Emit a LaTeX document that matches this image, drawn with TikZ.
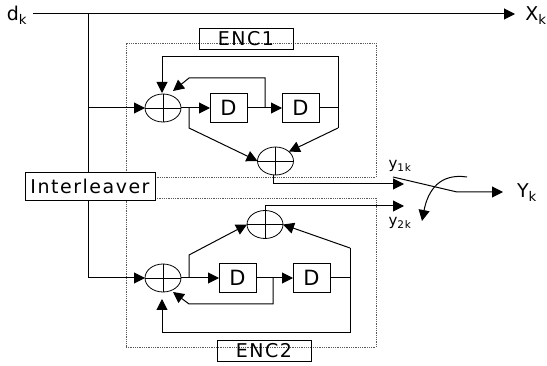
\documentclass[tikz,border=0pt]{standalone}
\usepackage{fontspec}
\setmainfont[LetterSpace=8]{DejaVu Sans}
\usetikzlibrary{shapes.geometric,arrows.meta,positioning,calc}
\begin{document}
\begin{tikzpicture}[
    x=1pt, y=-1pt,
    font=\fontsize{19}{21}\selectfont,
    node distance=0mm,
    sig/.style={line width=1pt},
    arw/.style={sig, -{Triangle[length=11pt, width=11pt]}},
    xorgate/.style={draw, ellipse, line width=0.8pt, minimum width=36pt, minimum height=28pt, inner sep=0pt, outer sep=0pt},
    delaybox/.style={draw, line width=0.8pt, minimum width=37pt, minimum height=29pt, inner sep=0pt, outer sep=0pt, font=\fontsize{21}{23}\selectfont},
    encframe/.style={draw=black!65, densely dotted, line width=0.8pt, minimum width=250pt, inner sep=0pt, outer sep=0pt},
    enclabel/.style={draw, line width=0.8pt, minimum width=94pt, minimum height=21pt, inner sep=0pt, outer sep=0pt},
    lbl/.style={inner sep=0pt, font=\fontsize{15}{17}\selectfont}
]
\useasboundingbox (0,0) rectangle (547,366);

% encoder frames
\node[encframe, minimum height=134pt] (frameA) at (251,110) {};
\node[encframe, minimum height=149pt] (frameB) at (251,272.5) {};
\node[enclabel] (encA) at (246,38.5) {ENC1};
\node[enclabel] (encB) at (264,351) {ENC2};

% terminals
\node[lbl, font=\fontsize{19}{21}\selectfont] (dk) at (17,15) {d\textsubscript{k}};
\node[lbl, font=\fontsize{19}{21}\selectfont] (xk) at (536,16) {X\textsubscript{k}};
\node[lbl, font=\fontsize{19}{21}\selectfont] (yk) at (527,193) {Y\textsubscript{k}};
\node[lbl] (ya) at (400,166) {y\textsubscript{1k}};
\node[lbl] (yb) at (400,223) {y\textsubscript{2k}};
\node[draw, fill=white, line width=0.8pt, minimum width=130pt, minimum height=28pt, inner sep=0pt, outer sep=0pt] (inter) at (90,186) {Interleaver};

% upper encoder
\node[xorgate] (xa) at (163,108) {};
\node[delaybox, right=29pt of xa] (da) {D};
\node[delaybox, right=35pt of da] (db) {D};
\node[xorgate] (xc) at (275.5,161) {};

% lower encoder
\node[xorgate] (xb) at (163,278) {};
\node[delaybox, right=38pt of xb] (dc) {D};
\node[delaybox, right=37pt of dc] (dd) {D};
\node[xorgate] (xd) at (265,224.5) {};

\foreach \g in {xa,xb,xc,xd} {
    \draw[line width=0.8pt] (\g.north) -- (\g.south);
    \draw[line width=0.8pt] (\g.west) -- (\g.east);
}

% data line
\coordinate (tapA) at (88.5,14);
\coordinate (tapB) at (88.5,108);
\coordinate (tapC) at (88.5,278);
\draw[arw] (33,14) -- (515,14);
\draw[sig] (tapA) -- (tapA |- inter.north);
\draw[arw] (tapB) -- (xa.west);
\draw[arw] (tapB |- inter.south) -- (tapC) -- (xb.west);

% upper encoder wiring
\draw[arw] (xa.east) -- (da.west);
\draw[arw] (da.east) -- (db.west);
\coordinate (fbA) at (265,108);
\coordinate (fbB) at (338,108);
\coordinate (ffA) at (189,108);
\draw[arw] (fbA) -- (fbA |- 0,78) -- (189,78) -- (173,91);
\draw[sig] (db.east) -- (fbB);
\draw[arw] (fbB |- 0,128) -- (fbB |- 0,57) -- (162,57) -- (162,93);
\draw[arw] (338,128) -- (xc.35);
\draw[arw] (ffA) -- (189,128) -- (xc.west);
\draw[arw] (273,175) -- (273,184) -- (404,184);

% lower encoder wiring
\draw[arw] (xb.east) -- (dc.west);
\draw[arw] (dc.east) -- (dd.west);
\coordinate (fbC) at (273,278);
\coordinate (fbD) at (350,278);
\coordinate (ffB) at (189,278);
\draw[arw] (fbC) -- (273,304) -- (189,304) -- (173,292);
\draw[sig] (dd.east) -- (fbD);
\draw[arw] (350,248) -- (350,333) -- (162,333) -- (162,299);
\draw[arw] (350,248) -- (xd.east);
\draw[arw] (ffB) -- (189,255) -- (xd.west);
\draw[arw] (xd.north) -- (265,206) -- (404,206);

% output switch
\coordinate (swA) at (393,177);
\coordinate (swB) at (457,192);
\coordinate (swC) at (467,177);
\draw[arw] (swA) -- (swB) -- (503,192);
\draw[arw] (swC) .. controls (440,173) and (428,190) .. (422,221);
\end{tikzpicture}
\end{document}
